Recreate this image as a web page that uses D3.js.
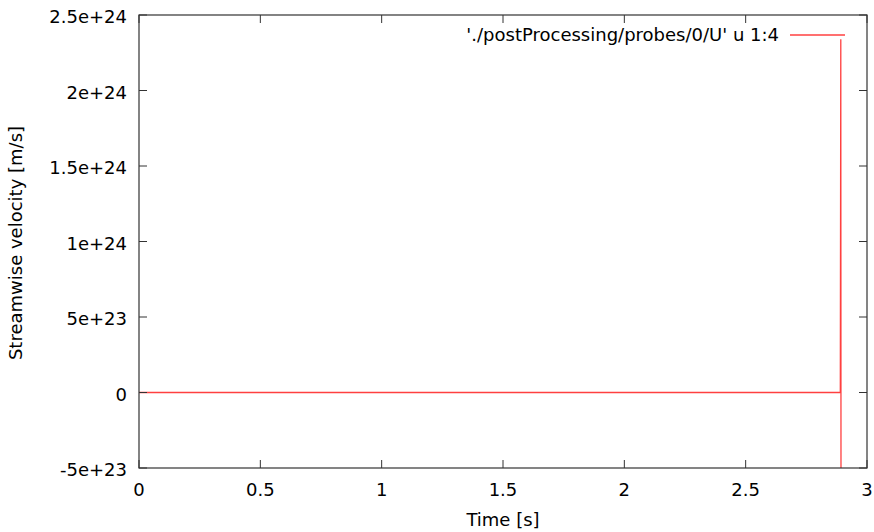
<!DOCTYPE html>
<html lang="en">
<meta charset="utf-8"/>
<head>
<style>
  body { margin: 0; background: #fff; }
  svg text { font-family: "DejaVu Sans", sans-serif; font-size: 18px; fill: #000; }
</style>
</head>
<body>
<svg id="chart" width="874" height="532"></svg>

<script src="https://d3js.org/d3.v7.min.js"></script>
<script>
// probe data, time [s] vs streamwise velocity [m/s]
let times = [0, 1.0, 2.0, 2.890, 2.892, 2.893]
let velocities = [0, 0, 0, 0, 2.34e24, -1.0e24]

let xTicks = [0, 0.5, 1, 1.5, 2, 2.5, 3]
let xTickLabels = ["0", "0.5", "1", "1.5", "2", "2.5", "3"]
let yTicks = [-5e23, 0, 5e23, 1e24, 1.5e24, 2e24, 2.5e24]
let yTickLabels = ["-5e+23", "0", "5e+23", "1e+24", "1.5e+24", "2e+24", "2.5e+24"]
let seriesName = "'./postProcessing/probes/0/U' u 1:4"

let plotL = 139, plotR = 867, plotT = 15, plotB = 468
let svg = d3.select("svg")

let x = d3.scaleLinear().domain([0, 3]).range([plotL, plotR])
let y = d3.scaleLinear().domain([-5e23, 2.5e24]).range([plotB, plotT])

// clip the data line to the frame
svg.append("clipPath").attr("id", "clip")
   .append("rect").attr("x", plotL).attr("y", plotT)
   .attr("width", plotR - plotL).attr("height", plotB - plotT)

let data = times.map((t, i) => ({t: t, v: velocities[i]}))

svg.append("path")
   .datum(data)
   .attr("clip-path", "url(#clip)")
   .attr("fill", "none")
   .attr("stroke", "#ff4040")
   .attr("stroke-width", 1.3)
   .attr("d", d3.line().x(d => x(d.t)).y(d => y(d.v)))

// ticks on all four sides, pointing inward (gnuplot style)
let tickLen = 8
let g = svg.append("g").attr("stroke", "#333").attr("stroke-width", 1)
xTicks.forEach(t => {
  g.append("line").attr("x1", x(t)).attr("x2", x(t)).attr("y1", plotB).attr("y2", plotB - tickLen)
  g.append("line").attr("x1", x(t)).attr("x2", x(t)).attr("y1", plotT).attr("y2", plotT + tickLen)
})
yTicks.forEach(v => {
  g.append("line").attr("x1", plotL).attr("x2", plotL + tickLen).attr("y1", y(v)).attr("y2", y(v))
  g.append("line").attr("x1", plotR).attr("x2", plotR - tickLen).attr("y1", y(v)).attr("y2", y(v))
})

svg.append("rect")
   .attr("x", plotL).attr("y", plotT)
   .attr("width", plotR - plotL).attr("height", plotB - plotT)
   .attr("fill", "none").attr("stroke", "#333").attr("stroke-width", 1.2)

svg.selectAll(".xl").data(xTicks).enter().append("text")
   .attr("x", d => x(d)).attr("y", plotB + 28)
   .attr("text-anchor", "middle")
   .text((d, i) => xTickLabels[i])

svg.selectAll(".yl").data(yTicks).enter().append("text")
   .attr("x", plotL - 12).attr("y", d => y(d) + 8)
   .attr("text-anchor", "end")
   .text((d, i) => yTickLabels[i])

svg.append("text")
   .attr("x", 503).attr("y", 526)
   .attr("text-anchor", "middle")
   .text("Time [s]")

svg.append("text")
   .attr("transform", "translate(22,243) rotate(-90)")
   .attr("text-anchor", "middle")
   .text("Streamwise velocity [m/s]")

// legend
svg.append("text")
   .attr("x", 779).attr("y", 41)
   .attr("text-anchor", "end")
   .text(seriesName)
svg.append("line")
   .attr("x1", 790).attr("x2", 845).attr("y1", 35).attr("y2", 35)
   .attr("stroke", "#ff4040").attr("stroke-width", 1.3)
</script>
</body>
</html>
